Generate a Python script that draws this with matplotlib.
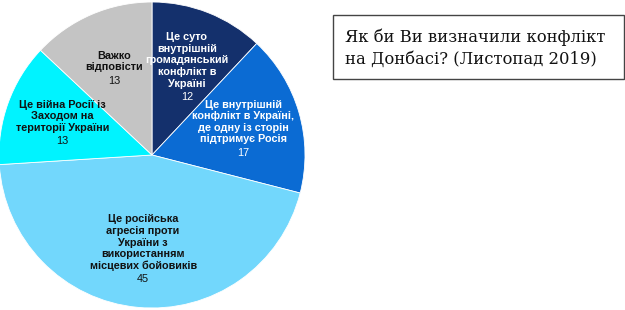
import numpy as np
import matplotlib
matplotlib.use('Agg')
import matplotlib.pyplot as plt
from matplotlib.patches import Rectangle

# survey answers (share, %)
labels = ['Це суто\nвнутрішній\nгромадянський\nконфлікт в\nУкраїні',
          'Це внутрішній\nконфлікт в Україні,\nде одну із сторін\nпідтримує Росія',
          'Це російська\nагресія проти\nУкраїни з\nвикористанням\nмісцевих бойовиків',
          'Це війна Росії із\nЗаходом на\nтериторії України',
          'Важко\nвідповісти']
values = [12, 17, 45, 13, 13]
colors = ['#14306c', '#0b6bd3', '#72d7fc', '#00f3ff', '#c4c4c4']
text_colors = ['white', 'white', '#111111', '#111111', '#111111']

fig = plt.figure(figsize=(6.25, 3.1), dpi=100)
ax = fig.add_axes([-1 / 625, 2 / 310, 306 / 625, 306 / 310])

wedges, _ = ax.pie(values, colors=colors, startangle=90, counterclock=False,
                   radius=1, wedgeprops=dict(edgecolor='white', linewidth=0.6))
ax.set_xlim(-1, 1)
ax.set_ylim(-1, 1)
ax.set_aspect('equal')
ax.axis('off')

# labels: bold category text with the value underneath, centred in each wedge
fs = 7.8
ls = 1.2
line_h = 8.3  # points per text line
for w, lab, val, tc in zip(wedges, labels, values, text_colors):
    ang = np.deg2rad((w.theta1 + w.theta2) / 2)
    r = 0.62
    x, y = r * np.cos(ang), r * np.sin(ang)
    n = lab.count('\n') + 1
    ax.annotate(lab, (x, y), xytext=(0, line_h / 2 + 0.5), textcoords='offset points',
                ha='center', va='center', fontsize=fs, fontweight='bold',
                color=tc, family='Liberation Sans', linespacing=ls)
    ax.annotate(str(val), (x, y), xytext=(0, -n * line_h / 2 - 0.8), textcoords='offset points',
                ha='center', va='center', fontsize=fs, color=tc, family='Liberation Sans')

# title box on the right
fig.patches.append(Rectangle((333 / 625, 1 - 79 / 310), 291 / 625, 64 / 310,
                             transform=fig.transFigure, fill=False,
                             edgecolor='#444444', linewidth=1.0))
fig.text(345 / 625, 1 - 48 / 310, 'Як би Ви визначили конфлікт\nна Донбасі? (Листопад 2019)',
         ha='left', va='center', fontsize=11.8, family='DejaVu Serif',
         color='#111111', linespacing=1.4)

fig.savefig('out.png', dpi=100)
